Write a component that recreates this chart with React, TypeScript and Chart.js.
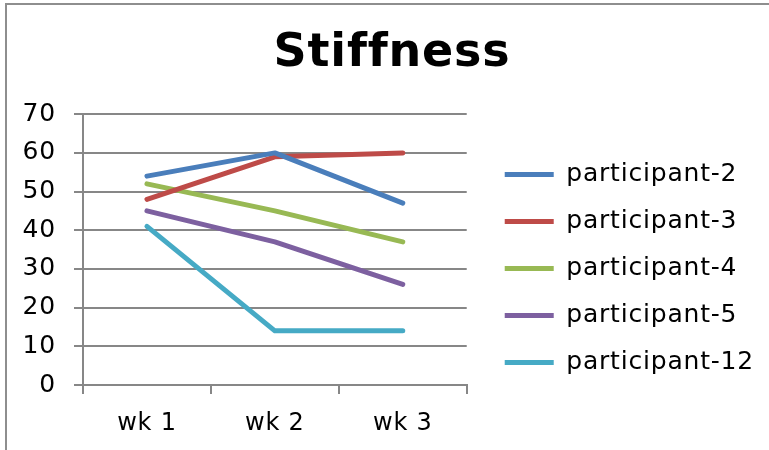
import React, { useEffect, useRef } from "react";
import { Chart, registerables } from "chart.js";

Chart.register(...registerables);

const categories = ["wk 1", "wk 2", "wk 3"];
const seriesNames = ["participant-2", "participant-3", "participant-4", "participant-5", "participant-12"];
const participant2 = [54, 60, 47];
const participant3 = [48, 59, 60];
const participant4 = [52, 45, 37];
const participant5 = [45, 37, 26];
const participant12 = [41, 14, 14];
const seriesColors = ["#4a7ebb", "#be4b48", "#98b954", "#7d60a0", "#46aac5"];
const yMin = 0;
const yMax = 70;
const yStep = 10;

const FONT = "'DejaVu Sans', Verdana, sans-serif";
const GRID = "#878787";

const widenText = {
  id: "widenText",
  beforeUpdate(chart: any) { chart.ctx.letterSpacing = "0.8px"; },
  beforeDraw(chart: any) { chart.ctx.letterSpacing = "0.8px"; },
};

export default function App() {
  const ref = useRef<HTMLCanvasElement | null>(null);
  useEffect(() => {
    if (!ref.current) return;
    const values = [participant2, participant3, participant4, participant5, participant12];
    const chart = new Chart(ref.current, {
      type: "line",
      plugins: [widenText],
      data: {
        labels: categories,
        datasets: seriesNames.map((name, i) => ({
          label: name,
          data: values[i],
          borderColor: seriesColors[i],
          backgroundColor: seriesColors[i],
          borderWidth: 5,
          pointRadius: 0,
          pointHoverRadius: 0,
          tension: 0,
          borderCapStyle: "round" as const,
          borderJoinStyle: "round" as const,
          fill: false,
        })),
      },
      options: {
        responsive: false,
        animation: false,
        devicePixelRatio: 1,
        layout: { padding: { left: 20, right: 5, top: 0, bottom: 5 } },
        plugins: {
          tooltip: { enabled: false },
          title: {
            display: true,
            text: "Stiffness",
            color: "#000",
            font: { family: FONT, size: 46, weight: "bold" },
            padding: { top: 26, bottom: 33 },
          },
          legend: {
            display: true,
            position: "right",
            align: "center",
            maxWidth: 400,
            title: { display: true, text: "", font: { size: 60 }, padding: { top: 10, bottom: 10 } },
            labels: {
              usePointStyle: true,
              pointStyle: "line",
              pointStyleWidth: 49,
              boxHeight: 25,
              padding: 22,
              color: "#000",
              font: { family: FONT, size: 25 },
            },
          },
        },
        scales: {
          x: {
            type: "category",
            offset: true,
            grid: { display: true, drawOnChartArea: false, color: GRID, lineWidth: 2, tickLength: 9, offset: true },
            border: { display: true, color: GRID, width: 2 },
            ticks: { color: "#000", font: { family: FONT, size: 24 }, padding: 15 },
            afterFit: (s: any) => { s.height = 60; },
          },
          y: {
            type: "linear",
            min: yMin,
            max: yMax,
            position: "left",
            grid: { display: true, color: GRID, lineWidth: 2, tickLength: 9 },
            border: { display: true, color: GRID, width: 2 },
            ticks: { stepSize: yStep, color: "#000", font: { family: FONT, size: 25 }, padding: 18 },
            afterFit: (s: any) => { s.width = 63; },
          },
          yR: {
            type: "linear",
            position: "right",
            display: true,
            grid: { display: false, drawTicks: false },
            border: { display: false },
            ticks: { display: false },
            afterFit: (s: any) => { s.width = 16; },
          },
        },
      },
    });
    return () => chart.destroy();
  }, []);

  return (
    <div style={{ position: "fixed", left: 0, top: 0, width: 769, height: 450, overflow: "hidden", background: "#fff" }}>
      <div style={{ position: "absolute", left: 5, top: 3, width: 900, height: 600, borderLeft: "2px solid #8e8e8e", borderTop: "2px solid #8e8e8e" }} />
      <canvas ref={ref} width={769} height={450} style={{ position: "absolute", left: 0, top: 0 }} />
    </div>
  );
}
